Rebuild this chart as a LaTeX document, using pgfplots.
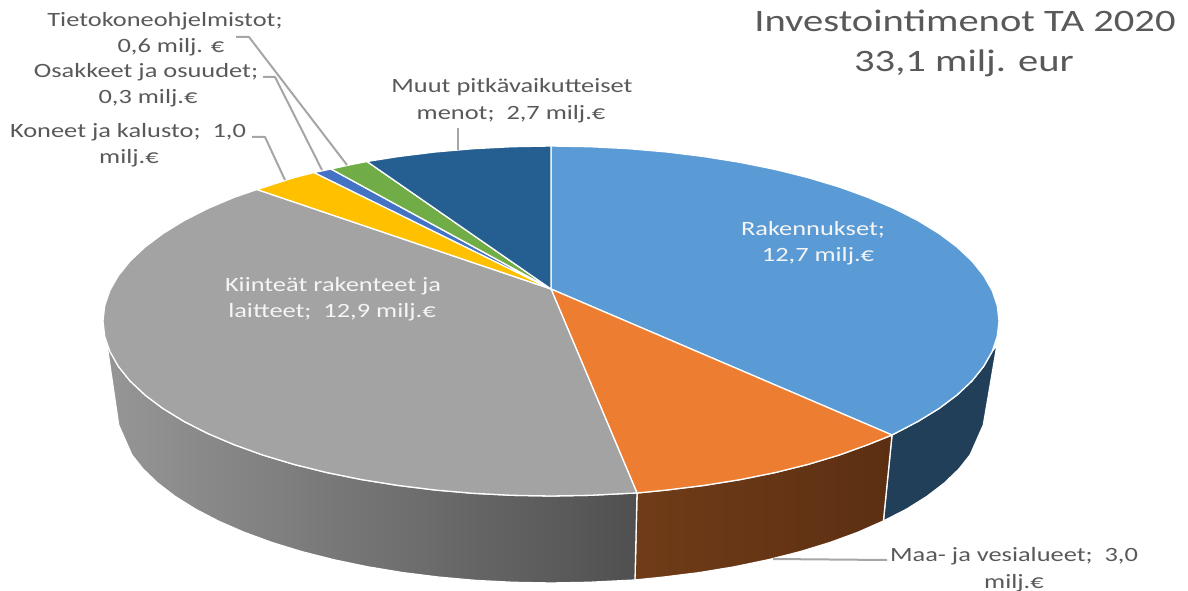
\documentclass[border=0pt]{standalone}
\usepackage{pgfplots}
\pgfplotsset{compat=1.18}
\usepackage{fontspec}
\setmainfont[FakeStretch=1.3]{Carlito}
\definecolor{cblue}{HTML}{5B9BD5}
\definecolor{corange}{HTML}{ED7D31}
\definecolor{cgray}{HTML}{A3A3A3}
\definecolor{cyellow}{HTML}{FFC000}
\definecolor{cblue2}{HTML}{4472C4}
\definecolor{cgreen}{HTML}{70AD47}
\definecolor{cdark}{HTML}{255E91}
\definecolor{sblue}{HTML}{223F59}
\definecolor{txt}{HTML}{595959}
\definecolor{lead}{HTML}{A6A6A6}
\tikzset{
  seam/.style={draw=white, line width=1.3pt},
  lbl/.style={anchor=base, text=txt, font=\fontsize{20.3}{24}\selectfont, inner sep=0pt},
  wl/.style={anchor=base, text=white!92!gray, font=\fontsize{20.3}{24}\selectfont, inner sep=0pt},
}
\begin{document}
\begin{tikzpicture}
\useasboundingbox (0,0) rectangle (1188pt,591pt);
\begin{axis}[
  anchor=south west, at={(0,0)},
  scale only axis, width=1188pt, height=591pt,
  xmin=0, xmax=1188, ymin=0, ymax=591, y dir=reverse,
  axis lines=none, clip=false,
  every axis plot/.append style={no markers, forget plot, line join=round},
]
% side walls
\addplot[seam, fill=sblue] coordinates {(997,345)(992.2,351.4)(983.7,366.3)(972,380.9)(957,395)(939,408.5)(918,421.4)(892,435)(883.4,521)(906.5,509.2)(926.8,496.5)(944.3,483.1)(958.8,469.2)(970.2,454.8)(983.3,425.1)(997,345)} ;
\addplot[seam, left color={rgb,255:red,112;green,60;blue,24}, right color={rgb,255:red,92;green,47;blue,18}] coordinates {(892,435)(867.8,444.7)(839,455.1)(808,464.4)(775,472.6)(740.3,479.6)(704.2,485.4)(667,490)(637,493)(635,580)(663.3,577.1)(699.4,572.6)(734.4,566.8)(768,559.8)(800,551.7)(830,542.5)(857.9,532.3)(883.4,521)(892,435)};
\addplot[seam, left color={rgb,255:red,150;green,150;blue,150}, right color={rgb,255:red,80;green,80;blue,80}] coordinates {(637,493)(628.8,493.3)(590.1,495.3)(551,496)(511.9,495.3)(473.2,493.3)(435,490)(397.8,485.4)(361.7,479.6)(327,472.6)(294,464.4)(263,455.1)(234.2,444.7)(207.8,433.5)(184,421.4)(163,408.5)(145,395)(130,380.9)(118.3,366.3)(107,345)(118.7,425.1)(131.8,454.8)(143.2,469.2)(157.7,483.1)(175.2,496.5)(195.5,509.2)(218.6,521.2)(244.1,532.3)(272,542.5)(302,551.7)(334,559.8)(367.6,566.8)(402.6,572.6)(438.7,577.1)(475.6,580.4)(513.2,582.3)(551,583)(588.8,582.3)(635,580)(637,493)};
% top slices
\addplot[seam, fill=cblue] coordinates {(551,289)(551,146)(590.1,146.7)(628.8,148.7)(667,152)(704.2,156.6)(740.3,162.4)(775,169.4)(808,177.6)(839,186.9)(867.8,197.3)(894.2,208.5)(918,220.6)(939,233.5)(957,247)(972,261.1)(983.7,275.7)(992.2,290.6)(997.3,305.7)(999,321)(997.3,336.3)(992.2,351.4)(983.7,366.3)(972,380.9)(957,395)(939,408.5)(918,421.4)(892,435)(551,289)};
\addplot[seam, fill=corange] coordinates {(551,289)(892,435)(867.8,444.7)(839,455.1)(808,464.4)(775,472.6)(740.3,479.6)(704.2,485.4)(667,490)(637,493)(551,289)};
\addplot[seam, fill=cgray] coordinates {(551,289)(637,493)(628.8,493.3)(590.1,495.3)(551,496)(511.9,495.3)(473.2,493.3)(435,490)(397.8,485.4)(361.7,479.6)(327,472.6)(294,464.4)(263,455.1)(234.2,444.7)(207.8,433.5)(184,421.4)(163,408.5)(145,395)(130,380.9)(118.3,366.3)(109.8,351.4)(104.7,336.3)(103,321)(104.7,305.7)(109.8,290.6)(118.3,275.7)(130,261.1)(145,247)(163,233.5)(184,220.6)(207.8,208.5)(234.2,197.3)(257,189.5)(551,289)};
\addplot[seam, fill=cyellow] coordinates {(551,289)(257,189.5)(294,177.6)(314,172.5)(551,289)};
\addplot[seam, fill=cblue2] coordinates {(551,289)(314,172.5)(331,169)(551,289)};
\addplot[seam, fill=cgreen] coordinates {(551,289)(331,169)(349,165)(367,161.5)(551,289)};
\addplot[seam, fill=cdark] coordinates {(551,289)(367,161.5)(397.8,156.6)(435,152)(473.2,148.7)(511.9,146.7)(551,146)(551,289)};
% leader lines
\addplot[lead, line width=2pt] coordinates {(236,37)(249,37)(347,165)};
\addplot[lead, line width=2pt] coordinates {(263,77)(275,77)(322,170)};
\addplot[lead, line width=2pt] coordinates {(252,137)(265,137)(285,180)};
\addplot[lead, line width=2pt] coordinates {(773,559)(887,560)};
\addplot[lead, line width=2pt] coordinates {(458,128)(458,150)};
% labels
\node[lbl] at (axis cs:165,27) {Tietokoneohjelmistot;};
\node[lbl] at (axis cs:171,53) {0,6 milj. €};
\node[lbl] at (axis cs:146,78) {Osakkeet ja osuudet;};
\node[lbl] at (axis cs:148,104) {0,3 milj.€};
\node[lbl] at (axis cs:128,137) {Koneet ja kalusto;\ \ 1,0};
\node[lbl] at (axis cs:129,163) {milj.€};
\node[lbl] at (axis cs:512,93) {Muut pitkävaikutteiset};
\node[lbl] at (axis cs:511,120) {menot;\ \ 2,7 milj.€};
\node[wl] at (axis cs:813,235) {Rakennukset;};
\node[wl] at (axis cs:818,261) {12,7 milj.€};
\node[wl] at (axis cs:333,291) {Kiinteät rakenteet ja};
\node[wl] at (axis cs:332,317) {laitteet;\ \ 12,9 milj.€};
\node[lbl] at (axis cs:1014,561) {Maa- ja vesialueet;\ \ 3,0};
\node[lbl] at (axis cs:1014,588) {milj.€};
\node[lbl, font=\fontsize{31.2}{36}\selectfont] at (axis cs:965,32) {Investointimenot TA 2020};
\node[lbl, font=\fontsize{31.2}{36}\selectfont] at (axis cs:964,72) {33,1 milj. eur};
\end{axis}
\end{tikzpicture}
\end{document}
